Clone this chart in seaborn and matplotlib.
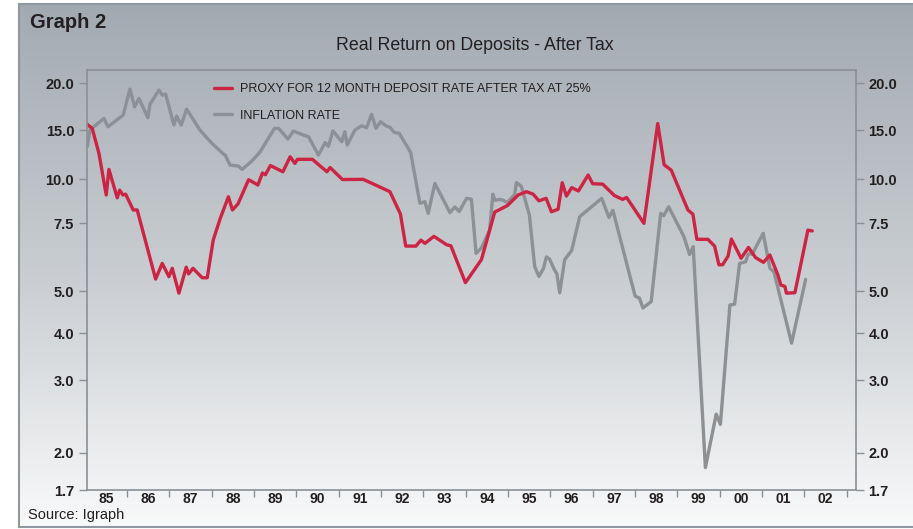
import numpy as np
import pandas as pd
import matplotlib
matplotlib.use("Agg")
import matplotlib.pyplot as plt
import seaborn as sns
from matplotlib import font_manager

# ---- data (decimal years, % values) ----
years_deposit = [1985.062, 1985.180, 1985.339, 1985.511, 1985.575, 1985.771, 1985.828, 1985.906,
                 1985.969, 1986.149, 1986.243, 1986.678, 1986.834, 1986.992, 1987.070, 1987.228,
                 1987.401, 1987.457, 1987.559, 1987.778, 1987.897, 1988.038, 1988.204, 1988.397,
                 1988.492, 1988.622, 1988.874, 1989.094, 1989.200, 1989.271, 1989.389, 1989.684,
                 1989.855, 1989.968, 1990.027, 1990.381, 1990.724, 1990.799, 1991.090, 1991.581,
                 1992.212, 1992.460, 1992.585, 1992.826, 1992.944, 1993.038, 1993.251, 1993.551,
                 1993.652, 1993.995, 1994.373, 1994.687, 1994.987, 1995.239, 1995.436, 1995.594,
                 1995.731, 1995.901, 1996.026, 1996.184, 1996.281, 1996.380, 1996.505, 1996.664,
                 1996.893, 1997.001, 1997.235, 1997.514, 1997.708, 1997.802, 1998.211, 1998.537,
                 1998.688, 1998.855, 1999.250, 1999.368, 1999.462, 1999.722, 1999.880, 1999.982,
                 2000.069, 2000.199, 2000.277, 2000.506, 2000.681, 2000.851, 2001.035, 2001.187,
                 2001.376, 2001.446, 2001.541, 2001.576, 2001.777, 2002.084, 2002.186]
deposit_after_tax = [15.61, 15.18, 12.64, 9.11, 11.01, 8.95, 9.39, 9.11,
                     9.16, 8.26, 8.26, 5.44, 6.02, 5.53, 5.84, 4.95,
                     5.88, 5.63, 5.84, 5.49, 5.49, 6.88, 7.78, 9.01,
                     8.26, 8.60, 9.98, 9.68, 10.64, 10.47, 11.40, 10.77,
                     12.29, 11.62, 12.03, 12.03, 10.77, 11.20, 9.99, 10.00,
                     9.30, 8.03, 6.66, 6.66, 6.88, 6.76, 7.02, 6.71,
                     6.67, 5.31, 6.16, 8.14, 8.51, 9.11, 9.30, 9.16,
                     8.78, 8.92, 8.16, 8.30, 9.81, 9.05, 9.53, 9.34,
                     10.44, 9.75, 9.73, 9.08, 8.86, 8.97, 7.50, 15.70,
                     11.48, 10.94, 8.26, 8.02, 6.91, 6.91, 6.66, 5.97,
                     5.97, 6.29, 6.92, 6.21, 6.61, 6.23, 6.06, 6.33,
                     5.59, 5.22, 5.17, 4.95, 4.96, 7.25, 7.22]

years_inflation = [1985.062, 1985.126, 1985.457, 1985.551, 1985.913, 1986.071, 1986.182, 1986.283,
                   1986.496, 1986.543, 1986.756, 1986.834, 1986.914, 1987.110, 1987.174, 1987.282,
                   1987.410, 1987.724, 1988.008, 1988.260, 1988.322, 1988.433, 1988.633, 1988.721,
                   1988.964, 1989.148, 1989.484, 1989.583, 1989.803, 1989.932, 1990.173, 1990.291,
                   1990.523, 1990.681, 1990.759, 1990.865, 1991.073, 1991.148, 1991.203, 1991.385,
                   1991.543, 1991.661, 1991.779, 1991.881, 1991.992, 1992.117, 1992.212, 1992.313,
                   1992.431, 1992.701, 1992.920, 1993.038, 1993.116, 1993.274, 1993.629, 1993.747,
                   1993.848, 1994.023, 1994.136, 1994.247, 1994.373, 1994.566, 1994.644, 1994.696,
                   1994.802, 1994.881, 1994.982, 1995.159, 1995.199, 1995.317, 1995.506, 1995.632,
                   1995.731, 1995.837, 1995.908, 1995.979, 1996.092, 1996.156, 1996.222, 1996.340,
                   1996.505, 1996.694, 1997.214, 1997.384, 1997.478, 1998.003, 1998.107, 1998.187,
                   1998.383, 1998.607, 1998.678, 1998.796, 1999.155, 1999.288, 1999.375, 1999.663,
                   1999.918, 2000.017, 2000.242, 2000.353, 2000.471, 2000.613, 2000.674, 2000.768,
                   2001.028, 2001.187, 2001.281, 2001.699, 2002.030]
inflation_rate = [13.31, 15.00, 16.25, 15.35, 16.61, 19.39, 17.49, 18.39,
                  16.32, 17.75, 19.28, 18.75, 18.85, 15.54, 16.50, 15.54,
                  17.25, 15.00, 13.65, 12.64, 12.46, 11.45, 11.35, 11.01,
                  11.91, 12.80, 15.18, 15.18, 14.09, 14.90, 14.49, 14.32,
                  12.46, 13.73, 13.35, 14.92, 13.81, 14.83, 13.48, 15.00,
                  15.46, 15.25, 16.68, 15.18, 15.89, 15.46, 15.29, 14.77,
                  14.67, 12.74, 8.64, 8.73, 8.07, 9.77, 8.11, 8.43,
                  8.17, 8.92, 8.87, 6.39, 6.59, 7.25, 9.16, 8.81,
                  8.86, 8.82, 8.68, 9.14, 9.82, 9.60, 7.97, 5.90,
                  5.54, 5.83, 6.26, 6.19, 5.80, 5.63, 4.96, 6.16,
                  6.50, 7.88, 8.92, 7.84, 8.24, 4.88, 4.83, 4.60,
                  4.75, 8.07, 7.94, 8.44, 7.01, 6.35, 6.64, 1.88,
                  2.53, 2.39, 4.67, 4.69, 6.02, 6.08, 6.37, 6.36,
                  7.13, 5.84, 5.71, 3.79, 5.43]

y_ticks = [1.7, 2.0, 3.0, 4.0, 5.0, 7.5, 10.0, 15.0, 20.0]
y_tick_labels = ["1.7", "2.0", "3.0", "4.0", "5.0", "7.5", "10.0", "15.0", "20.0"]
x_labels = ["85", "86", "87", "88", "89", "90", "91", "92", "93",
            "94", "95", "96", "97", "98", "99", "00", "01", "02"]

label_deposit = "PROXY FOR 12 MONTH DEPOSIT RATE AFTER TAX AT 25%"
label_inflation = "INFLATION RATE"

# the printed axis is neither linear nor log: rebuild its spacing
scale_vals = [1.5, 1.7, 2.0, 3.0, 4.0, 5.0, 7.5, 10.0, 15.0, 20.0, 22.0]
scale_pos = [-24.9, 0.0, 37.3, 110.0, 156.7, 199.0, 266.7, 310.7, 360.0, 406.7, 425.4]


def fwd(v):
    return np.interp(v, scale_vals, scale_pos)


def inv(p):
    return np.interp(p, scale_pos, scale_vals)


RED = "#cc2443"
GREY = "#8c9196"
SPINE = "#8a9096"
TXT = "#231f20"

sns.set_style("ticks")
names = {f.name for f in font_manager.fontManager.ttflist}
cond = "Liberation Sans Narrow" if "Liberation Sans Narrow" in names else "Liberation Sans"
plt.rcParams["font.family"] = [cond, "DejaVu Sans"]

fig = plt.figure(figsize=(9.13, 5.29), dpi=100)

# framed gradient panel behind everything
bg = fig.add_axes([19 / 913, 2 / 529, 900 / 913, 523 / 529], zorder=0)
t = np.linspace(0, 1, 256)[:, None]
top = np.array([0.635, 0.665, 0.695])
mid = np.array([0.80, 0.815, 0.83])
bot = np.array([0.975, 0.978, 0.98])
grad = np.where(t < 0.55, top + (mid - top) * (t / 0.55), mid + (bot - mid) * ((t - 0.55) / 0.45))
grad = grad.reshape(256, 1, 3)
bg.imshow(grad, aspect="auto", extent=[0, 1, 0, 1])
bg.set_xticks([])
bg.set_yticks([])
for s in bg.spines.values():
    s.set_color("#9097a0")
    s.set_linewidth(1.5)

ax = fig.add_axes([86.7 / 913, 39 / 529, 769.3 / 913, 420 / 529], zorder=1)
ax.set_facecolor("none")
ax.set_yscale("function", functions=(fwd, inv))

df_dep = pd.DataFrame({"year": years_deposit, "rate": deposit_after_tax})
df_inf = pd.DataFrame({"year": years_inflation, "rate": inflation_rate})
sns.lineplot(data=df_inf, x="year", y="rate", ax=ax, color=GREY, lw=2.4,
             label=label_inflation, sort=False, estimator=None)
sns.lineplot(data=df_dep, x="year", y="rate", ax=ax, color=RED, lw=2.4,
             label=label_deposit, sort=False, estimator=None)

ax.set_xlim(1985.05, 2003.22)
ax.set_ylim(1.7, 21.43)
ax.set_xlabel("")
ax.set_ylabel("")

ax.set_yticks(y_ticks)
ax.set_yticklabels(y_tick_labels)
ax.yaxis.set_minor_locator(matplotlib.ticker.NullLocator())
ax.tick_params(axis="y", which="major", left=True, right=True, labelleft=True, labelright=True,
               direction="out", length=6, width=1, color=SPINE, pad=3,
               labelsize=10.5, labelcolor=TXT)
for lab in ax.get_yticklabels():
    lab.set_fontweight("bold")

ax.set_xticks(np.arange(1986, 2004))
ax.set_xticklabels([])
ax.set_xticks(np.arange(1985.5, 2003), minor=True)
ax.set_xticklabels(x_labels, minor=True)
ax.tick_params(axis="x", which="major", direction="out", length=5, width=1, color=SPINE)
ax.tick_params(axis="x", which="minor", length=0, pad=1.5, labelsize=10, labelcolor=TXT)
for lab in ax.get_xticklabels(minor=True):
    lab.set_fontweight("bold")

for s in ax.spines.values():
    s.set_visible(True)
    s.set_color(SPINE)
    s.set_linewidth(1.2)

h, l = ax.get_legend_handles_labels()
leg = ax.legend(h[::-1], l[::-1], loc="upper left", bbox_to_anchor=(0.165, 0.968),
                frameon=False, fontsize=9.0, handlelength=1.5, handletextpad=0.6,
                labelspacing=1.15, borderpad=0, borderaxespad=0)
for txt in leg.get_texts():
    txt.set_color(TXT)

fig.text(30 / 913, 1 - 23 / 529, "Graph 2", fontsize=14.5, fontweight="bold", color=TXT,
         ha="left", va="center")
fig.text(475 / 913, 1 - 45 / 529, "Real Return on Deposits - After Tax", fontsize=12.8,
         color=TXT, ha="center", va="center")
fig.text(28 / 913, 1 - 515 / 529, "Source: Igraph", fontsize=10.5, color=TXT,
         ha="left", va="center")

fig.savefig("out.png", dpi=100)
